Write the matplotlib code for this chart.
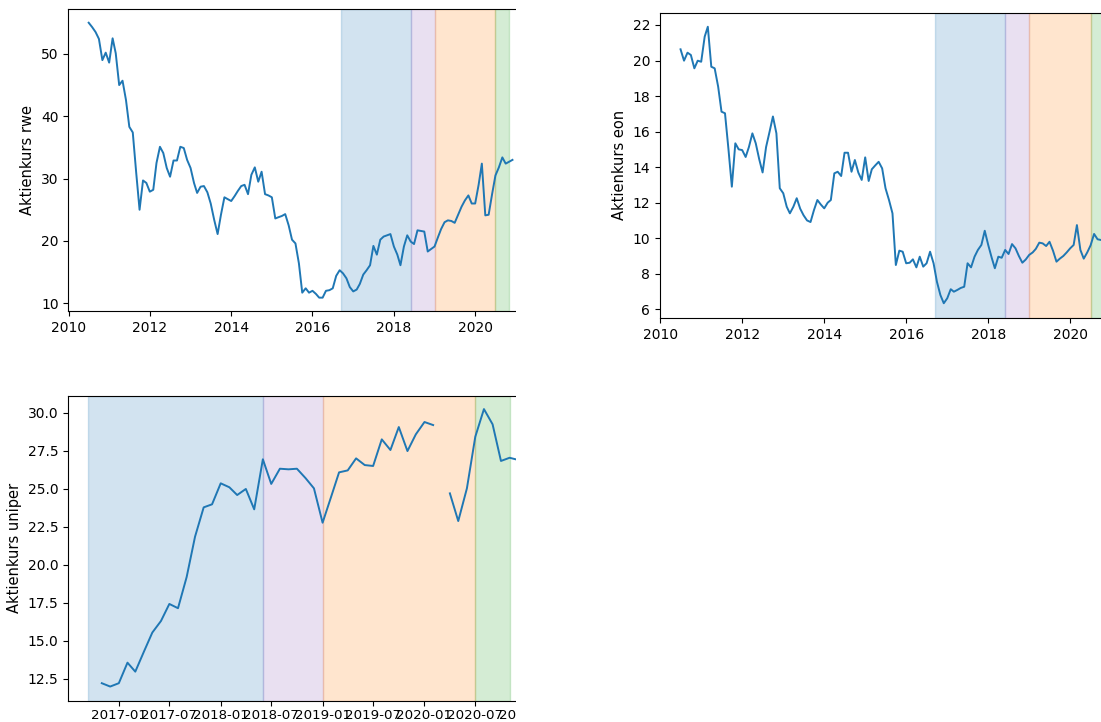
import matplotlib
matplotlib.use("Agg")
import matplotlib.pyplot as plt
import matplotlib.dates as mdates
from matplotlib.patches import Rectangle
import numpy as np
import pandas as pd

# ---------------- data ----------------
rwe_start = "2010-07-01"
rwe_values = [
    55.0, 54.3, 53.5, 52.4, 49.0, 50.2, 48.6, 52.5, 50.1, 45.0, 45.7, 42.6,
    38.3, 37.4, 30.9, 25.0, 29.7, 29.3, 27.9, 28.2, 32.5, 35.1, 34.1, 31.7,
    30.3, 32.9, 32.9, 35.1, 34.9, 33.0, 31.7, 29.3, 27.7, 28.7, 28.8, 27.8,
    26.0, 23.4, 21.1, 24.2, 27.0, 26.7, 26.4, 27.2, 28.0, 28.8, 29.0, 27.5,
    30.6, 31.8, 29.5, 31.1, 27.5, 27.3, 27.0, 23.6, 23.8, 24.0, 24.3, 22.5,
    20.2, 19.6, 16.4, 11.7, 12.4, 11.7, 12.0, 11.5, 10.9, 10.9, 12.0, 12.1,
    12.4, 14.4, 15.3, 14.8, 14.0, 12.6, 11.9, 12.2, 13.1, 14.6, 15.3, 16.1,
    19.2, 17.8, 20.2, 20.7, 20.9, 21.1, 19.1, 17.8, 16.1, 19.1, 20.9, 19.9,
    19.5, 21.7, 21.6, 21.5, 18.3, 18.7, 19.1, 20.6, 21.9, 23.0, 23.3, 23.2,
    22.9, 24.2, 25.5, 26.5, 27.3, 26.0, 26.0, 29.0, 32.4, 24.1, 24.2, 27.5,
    30.5, 31.8, 33.4, 32.4, 32.7, 33.0,
]

eon_start = "2010-07-01"
eon_values = [
    20.63, 19.99, 20.44, 20.31, 19.56, 19.99, 19.93, 21.34, 21.90, 19.65, 19.56, 18.53,
    17.12, 17.03, 15.00, 12.90, 15.34, 15.00, 14.96, 14.57, 15.13, 15.90, 15.34, 14.44,
    13.70, 15.13, 15.99, 16.85, 15.90, 12.81, 12.53, 11.77, 11.40, 11.77, 12.25, 11.66,
    11.29, 11.00, 10.91, 11.57, 12.15, 11.90, 11.68, 12.00, 12.15, 13.65, 13.74, 13.50,
    14.81, 14.81, 13.74, 14.40, 13.69, 13.28, 14.55, 13.22, 13.88, 14.10, 14.30, 13.93,
    12.81, 12.15, 11.40, 8.49, 9.30, 9.24, 8.59, 8.62, 8.81, 8.36, 8.96, 8.40,
    8.59, 9.24, 8.59, 7.55, 6.80, 6.34, 6.62, 7.13, 6.99, 7.09, 7.20, 7.27,
    8.59, 8.36, 8.96, 9.34, 9.62, 10.42, 9.62, 8.90, 8.31, 8.96, 8.90, 9.34,
    9.11, 9.67, 9.43, 9.00, 8.62, 8.80, 9.06, 9.20, 9.40, 9.75, 9.71, 9.56,
    9.80, 9.30, 8.68, 8.85, 9.00, 9.20, 9.43, 9.62, 10.74, 9.34, 8.85, 9.20,
    9.60, 10.24, 9.94, 9.90,
]

uniper_start = "2016-11-01"
uniper_values = [
    12.22, 12.00, 12.22, 13.57, 12.98, 14.30, 15.55, 16.31, 17.43, 17.15, 19.20, 21.85,
    23.78, 23.98, 25.36, 25.10, 24.59, 24.99, 23.65, 26.94, 25.32, 26.32, 26.28, 26.32,
    25.70, 25.03, 22.77, 24.50, 26.08, 26.21, 27.00, 26.56, 26.50, 28.25, 27.55, 29.06,
    27.48, 28.58, 29.39, 29.19, np.nan, 24.70, 22.88, 25.03, 28.42, 30.24, 29.24, 26.83,
    27.04, 26.90,
]

# phases (shaded periods)
phase_starts = ["2016-09-12", "2018-06-01", "2019-01-01", "2020-07-01"]
phase_ends = ["2018-06-01", "2019-01-01", "2020-07-01", "2020-11-01"]
phase_colors = ["C0", "C4", "C1", "C2"]

ylabels = ["Aktienkurs rwe", "Aktienkurs eon", "Aktienkurs uniper"]

# ---------------- figure ----------------
W, H = 1101, 722
fig = plt.figure(figsize=(W / 100, H / 100), dpi=100)
plt.rcParams["font.size"] = 10


def yr(d):
    t = pd.Timestamp(d)
    return t.year + (t.dayofyear - 1) / 365.25


def make_axes(left_px, top_px, bottom_px, x0, x1, px_per_year):
    width_px = (yr(x1) - yr(x0)) * px_per_year
    return fig.add_axes([left_px / W, 1 - bottom_px / H,
                         width_px / W, (bottom_px - top_px) / H])


def draw(ax, start, values, ylabel, xlim, ylim):
    dates = pd.date_range(start, periods=len(values), freq="MS")
    for s, e, c in zip(phase_starts, phase_ends, phase_colors):
        ax.axvspan(pd.Timestamp(s), pd.Timestamp(e), color=c, alpha=0.2)
    ax.plot(dates, values, color="#1f77b4", lw=1.4)
    ax.set_xlim(pd.Timestamp(xlim[0]), pd.Timestamp(xlim[1]))
    ax.set_ylim(*ylim)
    ax.set_ylabel(ylabel, fontsize=10.5)
    ax.tick_params(labelsize=10)
    ax.spines["right"].set_visible(False)


ax1 = make_axes(68.3, 9, 311, "2009-12-30", "2021-06-01", 40.67)
draw(ax1, rwe_start, rwe_values, ylabels[0], ("2009-12-30", "2021-06-01"), (8.76, 57.2))
ax1.xaxis.set_major_locator(mdates.YearLocator(2))
ax1.xaxis.set_major_formatter(mdates.DateFormatter("%Y"))
ax1.set_yticks([10, 20, 30, 40, 50])

ax2 = make_axes(660, 12.7, 318, "2009-12-30", "2021-06-01", 41.0)
draw(ax2, eon_start, eon_values, ylabels[1], ("2009-12-30", "2021-06-01"), (5.51, 22.69))
ax2.xaxis.set_major_locator(mdates.YearLocator(2))
ax2.xaxis.set_major_formatter(mdates.DateFormatter("%Y"))
ax2.set_yticks(np.arange(6, 23, 2))

ax3 = make_axes(68.3, 395.7, 701, "2016-07-04", "2021-03-01", 102.0)
draw(ax3, uniper_start, uniper_values, ylabels[2], ("2016-07-04", "2021-03-01"), (11.05, 31.12))
ax3.xaxis.set_major_locator(mdates.MonthLocator(bymonth=[1, 7]))
ax3.xaxis.set_major_formatter(mdates.DateFormatter("%Y-%m"))
ax3.tick_params(axis="x", labelsize=9.6, pad=2.5)
ax3.set_yticks(np.arange(12.5, 30.1, 2.5))
ax3.yaxis.set_major_formatter(matplotlib.ticker.FormatStrFormatter("%.1f"))

# crop edge of the left column of panels
fig.add_artist(Rectangle((516 / W, 0), (606 - 516) / W, 1, transform=fig.transFigure,
                         facecolor="white", edgecolor="none", zorder=10))

fig.savefig("out.png", dpi=100)
